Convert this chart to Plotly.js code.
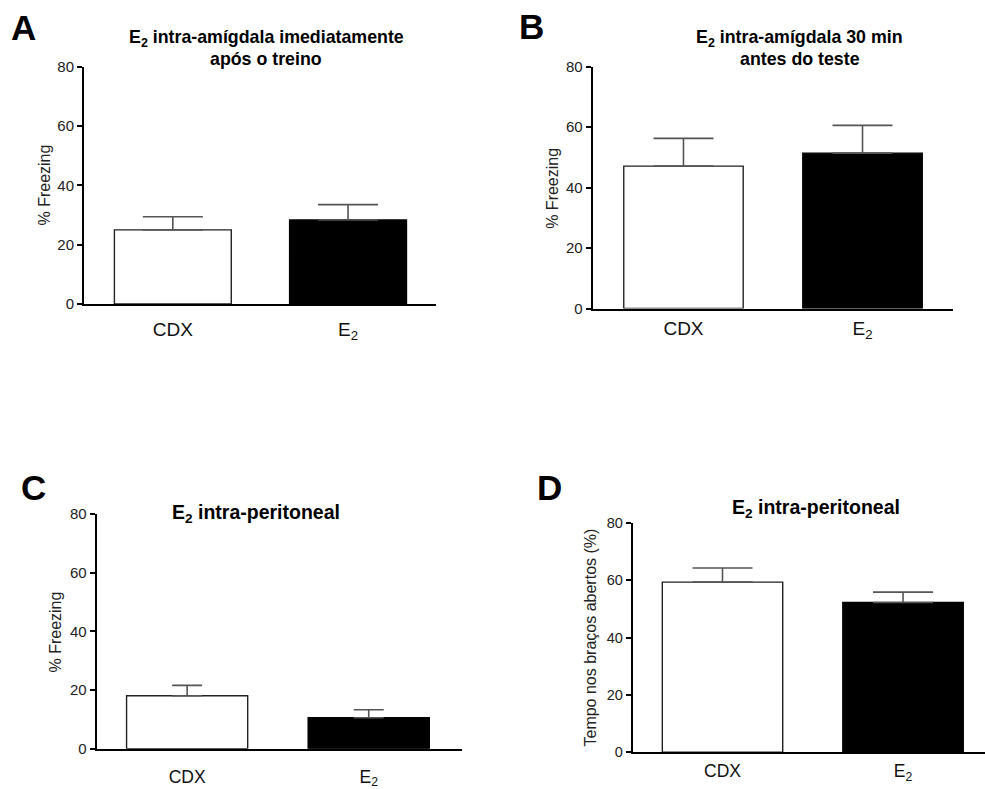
<!DOCTYPE html>
<html>
<head>
<meta charset="utf-8">
<script src="https://cdn.plot.ly/plotly-3.0.1.min.js"></script>
<style>html,body{margin:0;padding:0;background:#fff;}#chart{width:985px;height:789px;}</style>
</head>
<body>
<div id="chart"></div>
<script>
// Data
const categories = ['CDX', 'E<sub>2</sub>'];
const valuesA = [25.0, 28.3];
const errorsA = [4.4, 5.2];
const valuesB = [47.1, 51.4];
const errorsB = [9.2, 9.2];
const valuesC = [18.1, 10.6];
const errorsC = [3.5, 2.7];
const valuesD = [59.3, 52.2];
const errorsD = [4.9, 3.6];
const yTicks = [0, 20, 40, 60, 80];
const panelLetters = ['A', 'B', 'C', 'D'];
const titleLinesA = ['E<sub>2</sub> intra-amígdala imediatamente', 'após o treino'];
const titleLinesB = ['E<sub>2</sub> intra-amígdala 30 min', 'antes do teste'];
const titleC = 'E<sub>2</sub> intra-peritoneal';
const titleD = 'E<sub>2</sub> intra-peritoneal';
const yTitleFreezing = '% Freezing';
const yTitleD = 'Tempo nos braços abertos (%)';

const FONT = 'Arial, "Liberation Sans", sans-serif';
const W = 985, H = 789;
const px = x => x / W;
const py = y => 1 - y / H;

function barTrace(vals, errs, xa, ya, capHalf) {
  return {
    type: 'bar', x: categories, y: vals, xaxis: xa, yaxis: ya,
    width: 0.667,
    marker: {color: ['#ffffff', '#000000'], line: {color: ['#222222', '#000000'], width: 1.4}},
    error_y: {type: 'data', array: errs, arrayminus: [0, 0], symmetric: false,
              color: '#555555', thickness: 1.6, width: capHalf},
    hoverinfo: 'skip'
  };
}

const data = [
  barTrace(valuesA, errorsA, 'x', 'y', 30),
  barTrace(valuesB, errorsB, 'x2', 'y2', 30),
  barTrace(valuesC, errorsC, 'x3', 'y3', 15),
  barTrace(valuesD, errorsD, 'x4', 'y4', 30)
];

function xAxis(domain, range, anchor, fs, standoff) {
  return {domain: domain, range: range, anchor: anchor, type: 'category',
    showline: true, linecolor: '#000', linewidth: 2, ticks: '', showgrid: false, zeroline: false,
    tickfont: {family: FONT, size: fs, color: '#111'}, ticklabelstandoff: standoff, fixedrange: true};
}
function yAxis(domain, anchor, fs) {
  return {domain: domain, range: [0, 80], anchor: anchor, tickvals: yTicks, ticktext: yTicks.map(String),
    showline: true, linecolor: '#000', linewidth: 2, ticks: 'outside', ticklen: 5, tickwidth: 2, tickcolor: '#000',
    showgrid: false, zeroline: false, tickfont: {family: FONT, size: fs, color: '#222'}, fixedrange: true};
}

function ann(text, x, y, size, bold, opts) {
  return Object.assign({text: bold ? '<b>' + text + '</b>' : text, x: px(x), y: py(y), xref: 'paper', yref: 'paper',
    showarrow: false, xanchor: 'center', yanchor: 'middle',
    font: {family: FONT, size: size, color: '#000'}}, opts || {});
}
const yTitleFont = {family: FONT, size: 16, color: '#222'};

const annotations = [
  ann(panelLetters[0], 23.5, 27.5, 35, true),
  ann(panelLetters[1], 531.3, 27, 35, true),
  ann(panelLetters[2], 33.8, 487, 35, true),
  ann(panelLetters[3], 549.8, 487.5, 35, true),
  ann(titleLinesA[0], 266.3, 38.5, 17.8, true),
  ann(titleLinesA[1], 266, 58.5, 17.8, true),
  ann(titleLinesB[0], 799.7, 38.5, 17.8, true),
  ann(titleLinesB[1], 799.5, 58.5, 17.8, true),
  ann(titleC, 255.7, 513.5, 19.5, true),
  ann(titleD, 816.3, 508, 19.5, true),
  ann(yTitleFreezing, 44, 185.5, 16, false, {textangle: -90, font: yTitleFont}),
  ann(yTitleFreezing, 552.5, 188.3, 16, false, {textangle: -90, font: yTitleFont}),
  ann(yTitleFreezing, 55, 632.5, 16, false, {textangle: -90, font: yTitleFont}),
  ann(yTitleD, 590, 637.5, 16, false, {textangle: -90, font: yTitleFont})
];

const layout = {
  width: W, height: H, margin: {l: 0, r: 0, t: 0, b: 0},
  paper_bgcolor: '#fff', plot_bgcolor: '#fff', showlegend: false, bargap: 0,
  xaxis: xAxis([px(84), px(436)], [-0.507, 1.502], 'y', 19, 7),
  yaxis: yAxis([py(304), py(66.7)], 'x', 15),
  xaxis2: xAxis([px(592.7), px(953.3)], [-0.507, 1.507], 'y2', 19, 2),
  yaxis2: yAxis([py(308.5), py(66.7)], 'x2', 15),
  xaxis3: xAxis([px(96.7), px(461.7)], [-0.498, 1.512], 'y3', 17.5, 11),
  yaxis3: yAxis([py(748.8), py(514)], 'x3', 15),
  xaxis4: xAxis([px(632.7), 1.0], [-0.4975, 1.454], 'y4', 17.5, 2),
  yaxis4: yAxis([py(752.3), py(522.7)], 'x4', 14.5),
  annotations: annotations
};

Plotly.newPlot('chart', data, layout, {displayModeBar: false, staticPlot: true});
</script>
</body>
</html>
